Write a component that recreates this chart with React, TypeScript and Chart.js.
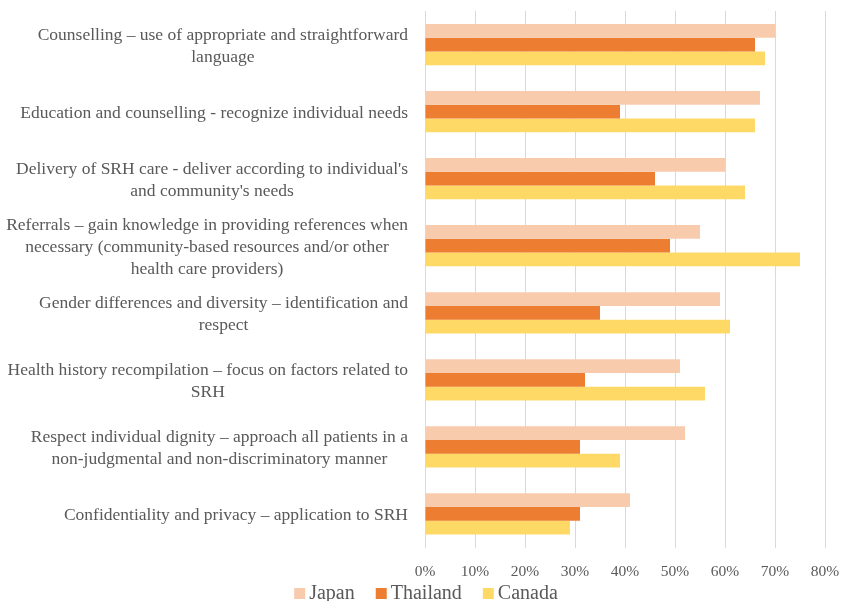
import React, { useEffect, useRef } from 'react';
import { Chart, registerables } from 'chart.js';

Chart.register(...registerables);

const categories: string[][] = [
  ['Counselling – use of appropriate and straightforward', 'language'],
  ['Education and counselling - recognize individual needs'],
  ["Delivery of SRH care - deliver according to individual's", "and community's needs"],
  ['Referrals – gain knowledge in providing references when', 'necessary (community-based resources and/or other', 'health care providers)'],
  ['Gender differences and diversity – identification and', 'respect'],
  ['Health history recompilation – focus on factors related to', 'SRH'],
  ['Respect individual dignity – approach all patients in a', 'non-judgmental and non-discriminatory manner'],
  ['Confidentiality and privacy – application to SRH'],
];

const seriesNames = ['Japan', 'Thailand', 'Canada'];
const japan = [70, 67, 60, 55, 59, 51, 52, 41];
const thailand = [66, 39, 46, 49, 35, 32, 31, 31];
const canada = [68, 66, 64, 75, 61, 56, 39, 29];
const seriesColors = ['#F8CBAD', '#ED7D31', '#FFD966'];

const xMin = 0;
const xMax = 80;
const xStep = 10;

const FONT = "'Liberation Serif', 'Times New Roman', serif";
const TEXT_COLOR = '#595959';

const yLabelPlugin = {
  id: 'yLabelPlugin',
  afterDraw(chart: any) {
    const ctx = chart.ctx;
    const yScale = chart.scales.y;
    const labels = chart.data.labels as string[][];
    const rightEdge = chart.chartArea.left - 17;
    const lineH = 22;
    ctx.save();
    ctx.font = `17.5px ${FONT}`;
    ctx.fillStyle = TEXT_COLOR;
    ctx.textAlign = 'center';
    ctx.textBaseline = 'middle';
    labels.forEach((lines, i) => {
      const y = yScale.getPixelForTick(i) + 1.5;
      const maxW = Math.max(...lines.map((l) => ctx.measureText(l).width));
      const cx = rightEdge - maxW / 2;
      lines.forEach((line, j) => {
        ctx.fillText(line, cx, y + (j - (lines.length - 1) / 2) * lineH);
      });
    });
    ctx.restore();
  },
};

const legendPlugin = {
  id: 'bottomLegend',
  afterDraw(chart: any) {
    const ctx = chart.ctx;
    const datasets = chart.data.datasets;
    const box = 11;
    const gapText = 4;
    const gapItem = 21;
    const baseline = 599;
    ctx.save();
    ctx.font = `20px ${FONT}`;
    ctx.textBaseline = 'alphabetic';
    ctx.textAlign = 'left';
    const widths = datasets.map((d: any) => ctx.measureText(d.label).width);
    const total =
      widths.reduce((a: number, w: number) => a + box + gapText + w, 0) + gapItem * (datasets.length - 1);
    let x = 426 - total / 2;
    datasets.forEach((d: any, i: number) => {
      ctx.fillStyle = d.backgroundColor;
      ctx.fillRect(x, baseline - box, box, box);
      x += box + gapText;
      ctx.fillStyle = TEXT_COLOR;
      ctx.fillText(d.label, x, baseline);
      x += widths[i] + gapItem;
    });
    ctx.restore();
  },
};

export default function App() {
  const canvasRef = useRef<HTMLCanvasElement | null>(null);

  useEffect(() => {
    document.body.style.margin = '0';
    const canvas = canvasRef.current;
    if (!canvas) return;
    const values = [japan, thailand, canada];
    const chart = new Chart(canvas, {
      type: 'bar',
      data: {
        labels: categories as any,
        datasets: seriesNames.map((name, i) => ({
          label: name,
          data: values[i],
          backgroundColor: seriesColors[i],
          borderWidth: 0,
          barPercentage: 1,
          categoryPercentage: 0.615,
        })),
      },
      options: {
        indexAxis: 'y',
        responsive: false,
        animation: false,
        devicePixelRatio: 1,
        layout: { padding: { top: 11, right: 16, left: 0, bottom: 20.5 } },
        plugins: {
          legend: { display: false },
          tooltip: { enabled: false },
        },
        scales: {
          x: {
            min: xMin,
            max: xMax,
            ticks: {
              stepSize: xStep,
              callback: (v: any) => `${v}%`,
              color: TEXT_COLOR,
              font: { family: FONT, size: 15.5 },
              padding: 15.5,
            },
            grid: { color: '#D9D9D9', drawTicks: false, lineWidth: 1 },
            border: { display: false },
            afterFit: (scale: any) => {
              scale.height = 33;
              scale.paddingRight = 0;
              scale.paddingLeft = 0;
            },
          },
          y: {
            grid: { display: false },
            border: { display: false },
            ticks: { display: false },
            afterFit: (scale: any) => {
              scale.width = 425;
            },
          },
        },
      },
      plugins: [yLabelPlugin, legendPlugin],
    });
    return () => chart.destroy();
  }, []);

  return <canvas ref={canvasRef} width={841} height={601} style={{ display: 'block' }} />;
}
